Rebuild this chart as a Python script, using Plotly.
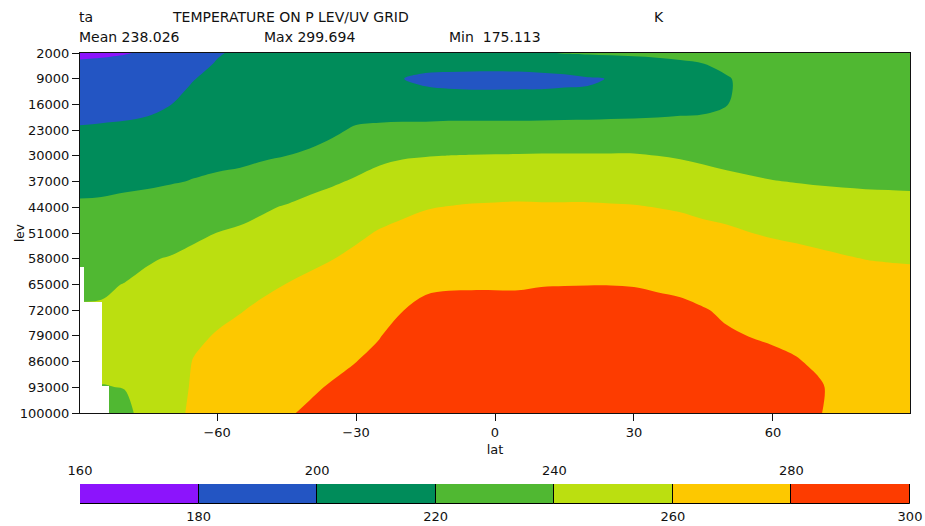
import plotly.graph_objects as go

# ---------------- data ----------------
lat = [-90, -85, -80, -75, -70, -65, -60, -55, -50, -45, -40, -35, -30, -25, -20, -15, -10, -5,
       0, 5, 10, 15, 20, 25, 30, 35, 40, 45, 50, 55, 60, 65, 70, 75, 80, 85, 90]
lev = [2000, 5000, 9000, 12500, 16000, 23000, 30000, 37000, 44000, 51000, 58000,
       65000, 72000, 79000, 86000, 93000, 100000]

ta_p2000 = [178, 178.6, 179.5, 181, 184, 190.5, 198.5, 203, 205, 206, 207, 207.5, 208, 209, 210, 211, 212, 213,
            214, 215.5, 218, 221, 222, 223, 223.5, 224, 224.5, 225, 225.5, 226, 226.5, 226.5, 226.5, 226.5, 226, 225.5, 225.5]
ta_p5000 = [181.3, 181.8, 182.7, 184.2, 187.4, 194.4, 201.3, 205.4, 207.1, 208, 208.5, 208.5, 208.2, 207, 206, 203.5, 203.5, 203.5,
            203.5, 203.6, 204, 205, 207, 209, 212, 214.5, 217.5, 219.8, 223, 225, 226, 226.5, 226.5, 226.5, 226, 225.5, 225.5]
ta_p9000 = [185.5, 186, 187, 188.5, 192, 199.5, 205, 208.5, 210, 210.5, 210.5, 210, 208.5, 203.5, 200.2, 197.8, 197, 196.6,
            196.5, 196.6, 197.2, 197.8, 199.2, 200.3, 202.5, 205.5, 209, 214, 219, 223.5, 225, 225.5, 226, 226, 226, 226, 226]
ta_p12500 = [190.5, 191, 191.7, 192.7, 195.9, 203, 207.8, 210.8, 212, 212.3, 212, 211.5, 210.2, 205, 202.5, 201.5, 200.8, 200.6,
             200.6, 200.7, 200.6, 201, 200.6, 202, 203.5, 206.5, 210, 214.5, 219, 223, 224.5, 225, 225.5, 226, 226, 226, 226]
ta_p16000 = [195.5, 196, 196.5, 197, 199.8, 206.5, 210.5, 213, 214, 214, 213.5, 213, 212, 210, 207.5, 205.6, 204.5, 204.2,
             204.2, 204.1, 204.3, 204.5, 205, 206, 207.5, 209.5, 212, 216, 219.8, 223.5, 224.5, 225, 225.5, 226, 226, 226, 226]
ta_p23000 = [201, 201.5, 202, 203.5, 207, 212, 214.5, 216, 216.5, 217, 217, 217.5, 222, 224, 226, 227, 229, 229,
             229, 229, 229.5, 230, 230, 230.5, 230.5, 230, 230, 226.5, 222.5, 226, 226.5, 226.5, 226.5, 226.5, 226, 226, 226]
ta_p30000 = [208, 208.5, 209, 210.5, 213.5, 216.5, 217.5, 218.8, 219, 220, 221.2, 226, 232, 236, 238.5, 239.5, 240.2, 240.5,
             240.7, 240.8, 241, 241, 241, 241, 241, 240, 238.7, 237, 235.5, 232.5, 232, 231.5, 231, 230.5, 230, 229.8, 229.5]
ta_p37000 = [215, 215.5, 217, 218, 219.2, 220.5, 221.5, 221.4, 224, 228.5, 234.5, 238, 242, 246.5, 249, 250.5, 251, 251.5,
             251.5, 252, 252, 252, 252, 251.5, 251, 250.5, 248.5, 246, 243.5, 242.5, 240.5, 239.5, 238.7, 238, 237.5, 237.3, 237]
ta_p44000 = [222.5, 223, 224, 225, 226.5, 228.5, 230, 233, 237.8, 241.5, 245, 248.5, 251, 254.5, 257, 259.3, 260.5, 261.5,
             262, 262.3, 262, 262, 262, 261.5, 261, 259.8, 258.8, 257, 255, 252, 249.5, 248, 247, 246.5, 246, 245.5, 245]
ta_p51000 = [229, 229.5, 231, 232, 233, 237, 240.2, 243, 246, 249, 252, 255, 257.5, 261, 263.5, 265.5, 267, 267.5,
             268, 268.5, 269, 269, 269.5, 269, 268.5, 267, 265, 263.5, 262.5, 260.2, 258.8, 257.8, 256.8, 255, 254, 253.5, 253]
ta_p58000 = [234, 234.5, 236, 238.8, 241, 244, 248, 250.5, 252.5, 255, 257.5, 259.8, 263, 266.5, 269, 271, 272.5, 273,
             273.5, 274, 274.5, 274.5, 275, 274.5, 274, 273, 271, 269, 268, 266, 264.5, 263.3, 262, 261, 259.8, 259.3, 259]
ta_p65000 = [238, 238.5, 240.3, 243, 246, 250, 253.5, 255, 258, 260.2, 262.5, 265, 268, 271.5, 274, 278.6, 279, 279,
             279, 278.8, 279.5, 279.7, 279.8, 279.8, 279.5, 278.5, 278, 274.5, 272.5, 270.5, 269, 268, 266.5, 265.5, 264.5, 264, 263.5]
ta_p72000 = [241, 241, 243, 246.5, 250, 254.5, 257.5, 259.5, 262, 265, 267, 270, 272.5, 275.5, 279.8, 282, 283, 283.5,
             283.5, 284, 284.5, 284.7, 285, 285, 284.5, 283.5, 282, 280.8, 278, 275, 273.5, 272.5, 270.5, 269, 268, 267.5, 267]
ta_p79000 = [244, 243, 244.5, 249, 253, 258, 260.7, 263, 266, 269.5, 271.5, 274, 276.5, 279.5, 284, 286, 287, 287.5,
             288, 288.5, 289, 289, 289.5, 289.5, 289, 288, 286.5, 285, 281.5, 279.8, 278.5, 277, 274, 272, 270.5, 270, 269.5]
ta_p86000 = [246, 244, 243.5, 250.5, 255, 260.5, 263.5, 266, 269.5, 273, 275, 277.5, 279.9, 283, 288, 290, 291, 291.5,
             292, 292.5, 293, 293.5, 293.5, 293.5, 292.5, 291.5, 290, 288.5, 285, 283.5, 282.5, 280.8, 278, 274.5, 272.5, 271.5, 271]
ta_p93000 = [247, 239.5, 240.3, 249, 256.5, 261, 266, 269, 272.5, 276, 278.5, 281, 284, 286.5, 291.5, 293.5, 294.5, 295,
             295.5, 296, 296.5, 297, 297, 297, 296, 295, 293.5, 292, 288.5, 287, 285.5, 283, 281.2, 276, 273.5, 272, 271.5]
ta_p100000 = [248, 238, 237, 244.5, 257.5, 261.5, 268, 271.5, 275, 279, 281.5, 284, 287.5, 290, 294.5, 296.5, 297.5, 298,
              298.7, 299.2, 299.5, 299.7, 299.5, 299.3, 298.5, 297.5, 296, 294.5, 291, 289, 287.5, 283.5, 281, 273, 272, 271, 270.5]

# missing-data (below ground) region: latitude cell edges and the level where data stop
missing_lat_edges = [-90, -88.7, -84.8, -83.4]
missing_from_lev = [60250, 69800, 92700]
bottom_lev = 100000

contour_levels = [160, 180, 200, 220, 240, 260, 280, 300]
band_colors = ["#8c14fc", "#2355c3", "#008c5a", "#50b832", "#bbdf10", "#fdc800", "#fd3c00"]

lat_ticks = [-60, -30, 0, 30, 60]
lev_ticks = [2000, 9000, 16000, 23000, 30000, 37000, 44000, 51000, 58000, 65000, 72000,
             79000, 86000, 93000, 100000]

title_name = "ta"
title_long = "TEMPERATURE ON P LEV/UV GRID"
title_units = "K"
stat_mean = "Mean 238.026"
stat_max = "Max 299.694"
stat_min = "Min  175.113"

# ---------------- figure ----------------
ta = [ta_p2000, ta_p5000, ta_p9000, ta_p12500, ta_p16000, ta_p23000, ta_p30000, ta_p37000,
      ta_p44000, ta_p51000, ta_p58000, ta_p65000, ta_p72000, ta_p79000, ta_p86000, ta_p93000, ta_p100000]

start, end = contour_levels[0], contour_levels[-1]
step = contour_levels[1] - contour_levels[0]
nlev = len(contour_levels)
lo_dom = start - step / 2
span = nlev * step
colorscale = []
for i, c in enumerate(band_colors):
    a = (contour_levels[i] - lo_dom) / span
    b = (contour_levels[i + 1] - lo_dom) / span
    if i == 0:
        a = 0.0
    if i == len(band_colors) - 1:
        b = 1.0
    colorscale.append([a, c])
    colorscale.append([b, c])

FONT = "DejaVu Sans"
INK = "#111111"

fig = go.Figure()
fig.add_trace(go.Contour(
    x=lat, y=lev, z=ta,
    autocontour=False,
    contours=dict(start=start, end=end, size=step, coloring="fill", showlines=False),
    colorscale=colorscale, showscale=False, line=dict(width=0),
    hoverinfo="skip",
))

# blank out the missing (below-ground) cells
m_centers = [(missing_lat_edges[i] + missing_lat_edges[i + 1]) / 2 for i in range(len(missing_from_lev))]
m_widths = [missing_lat_edges[i + 1] - missing_lat_edges[i] for i in range(len(missing_from_lev))]
m_heights = [bottom_lev - v for v in missing_from_lev]
fig.add_trace(go.Bar(
    x=m_centers, y=m_heights, base=missing_from_lev, width=m_widths,
    marker=dict(color="#ffffff", line=dict(width=0)),
    xaxis="x", yaxis="y", showlegend=False, hoverinfo="skip",
))

widths = [contour_levels[i + 1] - contour_levels[i] for i in range(len(band_colors))]
fig.add_trace(go.Bar(
    x=widths, base=contour_levels[:-1], y=[0] * len(band_colors), orientation="h",
    width=1, marker=dict(color=band_colors, line=dict(color="black", width=1)),
    xaxis="x2", yaxis="y2", showlegend=False, hoverinfo="skip",
))
# invisible carrier so the upper colour-bar label axis is drawn
fig.add_trace(go.Scatter(
    x=contour_levels[0::2], y=[0] * len(contour_levels[0::2]), mode="markers",
    marker=dict(size=1, opacity=0), xaxis="x3", yaxis="y2", showlegend=False, hoverinfo="skip",
))

W, H = 925, 526
ml, mr, mt, mb = 80, 15, 53, 22
ph = H - mt - mb
pw = W - ml - mr
plot_bottom_px = 413
main_y0 = (H - mb - plot_bottom_px) / ph
cb_top_px = 484
cb_y1 = (H - mb - cb_top_px) / ph


def py(ypx):
    return (H - mb - ypx) / ph


def px(xpx):
    return (xpx - ml) / pw


axis_common = dict(showgrid=False, zeroline=False, linecolor=INK, linewidth=1, automargin=False,
                   tickfont=dict(family=FONT, size=13, color=INK))

fig.update_layout(
    width=W, height=H,
    margin=dict(l=ml, r=mr, t=mt, b=mb, autoexpand=False),
    paper_bgcolor="white", plot_bgcolor="white",
    barmode="overlay", bargap=0,
    showlegend=False,
    xaxis=dict(domain=[0, 1], anchor="y", range=[-89.6, 89.6], tickvals=lat_ticks,
               ticks="outside", ticklen=7, tickcolor=INK, showline=True, mirror=True,
               title=dict(text="lat", font=dict(family=FONT, size=13, color=INK), standoff=6),
               layer="above traces", **axis_common),
    yaxis=dict(domain=[main_y0, 1], anchor="x", range=[100000, 2000], tickvals=lev_ticks,
               tickformat="d", ticks="outside", ticklen=7, tickcolor=INK, showline=True,
               mirror=True, layer="above traces", **axis_common),
    xaxis2=dict(domain=[0, 1], anchor="y2", range=[start, end], tickvals=contour_levels[1::2],
                ticks="", showline=False, ticklabelstandoff=3, **axis_common),
    xaxis3=dict(domain=[0, 1], anchor="y2", overlaying="x2", side="top", range=[start, end],
                tickvals=contour_levels[0::2], ticks="", showline=False, ticklabelstandoff=5,
                **axis_common),
    yaxis2=dict(domain=[0, cb_y1], anchor="x2", range=[-0.5, 0.5], visible=False),
)

tfont = dict(family=FONT, size=14, color=INK)
annots = [
    (77, 17, title_name), (170, 17, title_long), (652, 17, title_units),
    (77, 37, stat_mean), (262, 37, stat_max), (447, 37, stat_min),
]
for xp, yp, txt in annots:
    fig.add_annotation(x=px(xp), y=py(yp), xref="paper", yref="paper", text=txt,
                       showarrow=False, xanchor="left", yanchor="middle", font=tfont)

fig.add_annotation(x=px(20), y=51000, xref="paper", yref="y", text="lev", textangle=-90,
                   showarrow=False, xanchor="center", yanchor="middle",
                   font=dict(family=FONT, size=12, color=INK))

fig.write_html("out.html")
